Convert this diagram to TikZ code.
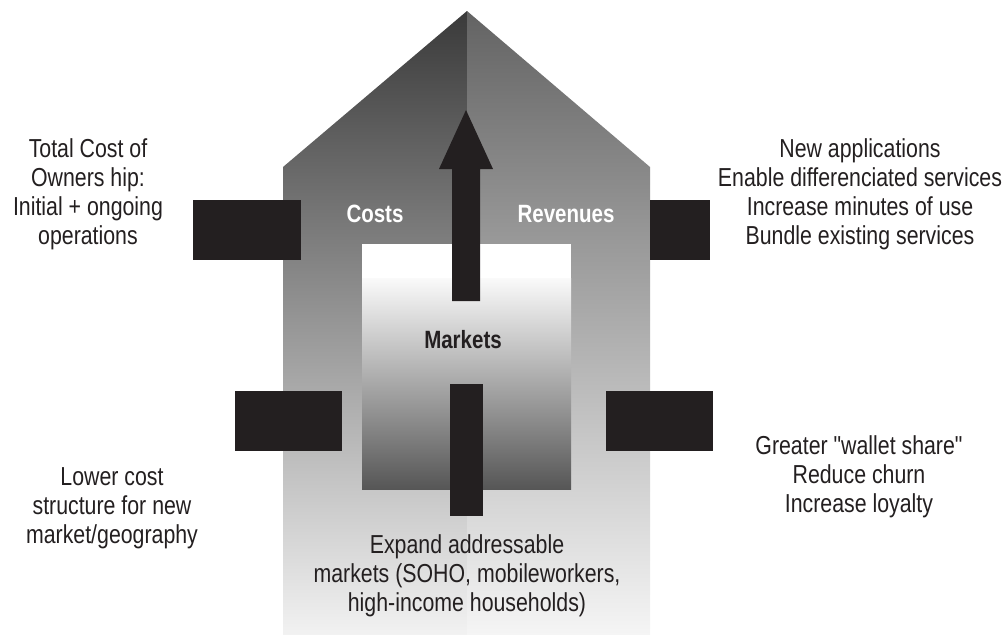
\documentclass[tikz,border=0pt]{standalone}
\usepackage{fontspec}
\setmainfont{Liberation Sans}[FakeStretch=0.82, Ligatures=TeXOff]
\definecolor{ink}{HTML}{231F20}
\begin{document}
\begin{tikzpicture}[x=1pt,y=-1pt,
  block/.style={fill=ink, draw=none, inner sep=0pt, outer sep=0pt},
  note/.style={text=ink, align=center, inner sep=0pt, font=\fontsize{26}{29}\selectfont},
  tag/.style={inner sep=0pt, font=\fontsize{25}{29}\selectfont\bfseries}]
\useasboundingbox (0,0) rectangle (1005,635);

% house body, split into a darker left half and a lighter right half
\shade[top color={rgb,255:red,58;green,58;blue,58}, bottom color={rgb,255:red,242;green,242;blue,242}]
  (283,167) -- (467,11) -- (467,635) -- (283,635) -- cycle;
\shade[top color={rgb,255:red,99;green,99;blue,99}, bottom color={rgb,255:red,245;green,245;blue,245}]
  (467,11) -- (650,167) -- (650,635) -- (467,635) -- cycle;

% inner "markets" window: white top band, then a gradient down to dark grey
\fill[white] (362,244) rectangle (571,279);
\shade[top color={rgb,255:red,250;green,250;blue,250}, bottom color={rgb,255:red,86;green,86;blue,86}]
  (362,278) rectangle (571,489);

% upward arrow through the roof
\fill[ink] (452,301) -- (452,169) -- (439,169) -- (466,110) -- (493,169) -- (480,169) -- (480,301) -- cycle;

% black blocks
\node[block, minimum width=108pt, minimum height=60pt] (ul) at (247,230) {};
\node[block, minimum width=60pt, minimum height=60pt] (ur) at (680,230) {};
\node[block, minimum width=107pt, minimum height=60pt] (ll) at (288.5,421) {};
\node[block, minimum width=107pt, minimum height=60pt] (lr) at (659.5,421) {};
\node[block, minimum width=33pt, minimum height=132pt] (lc) at (466.5,450) {};

% labels inside the house
\node[tag, text=white] (costs) at (375,214) {Costs};
\node[tag, text=white] (revenues) at (566,214) {Revenues};
\node[tag, text=ink] (markets) at (463,340) {Markets};

% descriptions around the house
\node[note] (tco) at (88,194) {Total Cost of\\Owners hip:\\Initial + ongoing\\operations};
\node[note] (rev) at (860,194) {New applications\\Enable differenciated services\\Increase minutes of use\\Bundle existing services};
\node[note] (lower) at (112,508) {Lower cost\\structure for new\\market/geography};
\node[note] (wallet) at (859,477) {Greater "wallet share"\\Reduce churn\\Increase loyalty};
\node[note] (expand) at (467,576) {Expand addressable\\markets (SOHO, mobileworkers,\\high-income households)};
\end{tikzpicture}
\end{document}
